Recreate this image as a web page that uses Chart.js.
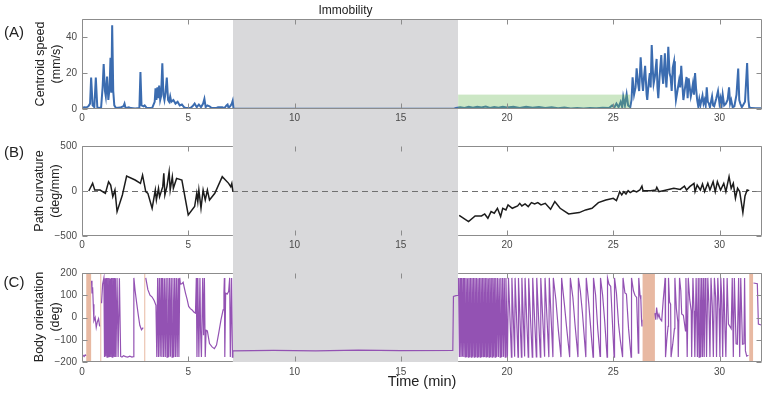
<!DOCTYPE html>
<html>
<head>
<meta charset="utf-8">
<script src="https://cdn.jsdelivr.net/npm/chart.js@4.4.1/dist/chart.umd.min.js"></script>
<style>
  body { margin: 0; background: #fff; font-family: "Liberation Sans", Arial, Helvetica, sans-serif; }
  #page { position: relative; width: 767px; height: 395px; overflow: hidden; }
  #band { position: absolute; background: #d9d9db; }
  canvas { position: absolute; left: 0; }
  .lbl { position: absolute; color: #222; white-space: nowrap; transform: translate(-50%, -50%); }
  .ytitle { position: absolute; font-size: 12.5px; line-height: 16px; text-align: center; color: #222;
            white-space: nowrap; transform: translate(-50%, -50%) rotate(-90deg); }
</style>
</head>
<body>
<div id="page">
  <div id="band"></div>
  <canvas id="panelA" width="767" height="125" style="top:0px"></canvas>
  <canvas id="panelB" width="767" height="130" style="top:125px"></canvas>
  <canvas id="panelC" width="767" height="140" style="top:255px"></canvas>

  <div class="lbl" id="immLabel" style="top:10px;font-size:12px">Immobility</div>
  <div class="lbl" style="left:14px;top:31px;font-size:15px">(A)</div>
  <div class="lbl" style="left:14px;top:151px;font-size:15px">(B)</div>
  <div class="lbl" style="left:14px;top:281px;font-size:15px">(C)</div>
  <div class="ytitle" style="left:48px;top:64px">Centroid speed<br>(mm/s)</div>
  <div class="ytitle" style="left:47px;top:191px">Path curvature<br>(deg/mm)</div>
  <div class="ytitle" style="left:47px;top:317px">Body orientation<br>(deg)</div>
  <div class="lbl" id="timeLabel" style="top:381px;font-size:14.5px">Time (min)</div>
</div>

<script>
const FONT = '"Liberation Sans", Arial, Helvetica, sans-serif';

// tick labels
const timeTicks = [0, 5, 10, 15, 20, 25, 30];
const speedTicks = [0, 20, 40];
const curvTicks = [-500, 0, 500];
const orientTicks = [-200, -100, 0, 100, 200];

// shaded intervals (min)
const immobility = [7.1, 17.7];
const lowSpeed = [17.7, 25.8];
const lowSpeedTop = 8;
const grooming = [[0.2, 0.43], [0.86, 0.9], [2.93, 2.97], [26.38, 26.96], [31.4, 31.58]];

// (A) centroid speed, mm/s
const speedT = [
  0, 0.1, 0.2, 0.3, 0.38, 0.43, 0.5, 0.58, 0.65, 0.72,
  0.8, 0.9, 0.97, 1.02, 1.08, 1.12, 1.18, 1.24, 1.3, 1.34,
  1.38, 1.42, 1.47, 1.52, 1.6, 1.8, 1.95, 2.0, 2.05, 2.2,
  2.3, 2.5, 2.7, 2.75, 2.8, 2.9, 2.95, 3.05, 3.3, 3.42,
  3.46, 3.5, 3.55, 3.6, 3.63, 3.68, 3.72, 3.78, 3.83, 3.88,
  3.93, 3.99, 4.05, 4.1, 4.15, 4.2, 4.3, 4.4, 4.5, 4.6,
  4.7, 4.8, 4.9, 5.1, 5.2, 5.3, 5.4, 5.5, 5.6, 5.7,
  5.76, 5.82, 5.9, 6.0, 6.1, 6.3, 6.4, 6.6, 6.7, 6.8,
  6.85, 6.9, 7.0, 7.05, 7.09, 7.13, 8, 10, 12, 14,
  16, 17.5, 17.6, 17.8, 18, 18.2, 18.4, 18.6, 18.8, 19,
  19.2, 19.4, 19.6, 19.8, 20, 20.3, 20.6, 20.9, 21.2, 21.5,
  21.8, 22.1, 22.4, 22.7, 23, 23.3, 23.6, 23.9, 24.2, 24.5,
  24.8, 24.95, 25.05, 25.15, 25.25, 25.35, 25.42, 25.47, 25.55, 25.63,
  25.7, 25.8, 25.86, 25.91, 25.98, 26.05, 26.1, 26.17, 26.22, 26.29,
  26.36, 26.4, 26.45, 26.5, 26.57, 26.6, 26.67, 26.72, 26.76, 26.81,
  26.86, 26.9, 26.96, 27.04, 27.08, 27.12, 27.18, 27.26, 27.3, 27.35,
  27.43, 27.47, 27.5, 27.55, 27.59, 27.65, 27.7, 27.75, 27.8, 27.86,
  27.9, 27.95, 28.02, 28.1, 28.15, 28.2, 28.25, 28.3, 28.38, 28.45,
  28.5, 28.55, 28.6, 28.65, 28.7, 28.75, 28.8, 28.85, 28.9, 28.95,
  29.0, 29.05, 29.1, 29.2, 29.25, 29.3, 29.35, 29.4, 29.45, 29.5,
  29.55, 29.6, 29.65, 29.7, 29.75, 29.85, 29.93, 30.0, 30.05, 30.1,
  30.15, 30.22, 30.3, 30.38, 30.45, 30.5, 30.55, 30.62, 30.7, 30.8,
  30.88, 30.93, 30.98, 31.05, 31.1, 31.2, 31.3, 31.36, 31.4, 31.5,
  31.7, 32
];
const speedV = [
  0.5, 1, 0.8, 1.5, 3, 17.5, 2, 1, 17.5, 1,
  0.5, 1, 12, 25, 10, 7, 18, 5, 12, 28.5,
  9, 46.5, 10, 2, 0.5, 0.8, 1.5, 3, 0.5, 1,
  0.5, 0.3, 0.5, 20.5, 2, 1.5, 2, 0.5, 0.5, 4,
  11.5, 5, 12, 6, 13, 5, 7, 25.4, 8, 5,
  9, 17.4, 5, 4, 7, 4, 5, 3, 4, 2,
  2.5, 1, 0.5, 0.5, 1.5, 3, 1, 2.5, 1, 3,
  5.6, 1, 2, 1.5, 0.5, 0.5, 1, 1, 0.5, 2,
  2.5, 0.5, 2, 3, 4.5, 0.3, 0.2, 0.2, 0.2, 0.2,
  0.2, 0.2, 0.6, 1, 0.6, 1.2, 0.7, 1.3, 0.8, 1.4,
  0.6, 1.1, 0.7, 1.3, 0.8, 1.2, 0.6, 1.3, 0.7, 1.1,
  0.5, 1, 0.4, 0.8, 0.3, 0.6, 0.3, 0.5, 0.4, 0.7,
  0.5, 2, 0.8, 3, 1, 4, 1, 6.8, 2, 8.2,
  2, 1, 5, 17.6, 8, 12, 22.6, 14, 10, 28.7,
  15, 10, 18, 24, 8, 5, 15, 20, 12, 35.5,
  22, 14, 18, 27.8, 12, 6, 18, 30, 20, 14,
  31, 18, 12, 22, 34.5, 20, 17.5, 10, 23, 26.5,
  14, 5, 10, 16, 12, 24, 14, 5, 12, 17.8,
  6, 17, 12, 7, 10, 14, 8, 20, 11, 5,
  1.5, 5.5, 2, 7.5, 3, 5, 2, 12, 4, 3,
  1, 4, 7, 2, 1.5, 6, 10, 3, 6, 2,
  8, 2, 3, 5, 12, 3, 5, 1, 1.5, 8,
  22.5, 5, 3, 1, 2, 4, 25.5, 5, 1, 0.5,
  0.4, 0.4
];

// (B) path curvature, deg/mm (no value during immobility)
const curvT = [
  0.32, 0.5, 0.6, 0.85, 1.1, 1.25, 1.35, 1.45, 1.55, 1.65,
  1.9, 2.1, 2.5, 2.75, 2.85, 3.0, 3.1, 3.3, 3.45, 3.5,
  3.6, 3.65, 3.8, 3.85, 3.9, 4.0, 4.1, 4.15, 4.25, 4.3,
  4.45, 4.7, 5.0, 5.3, 5.4, 5.45, 5.5, 5.6, 5.7, 5.8,
  5.9, 6.0, 6.25, 6.6, 6.9, 7.0, 7.05, 7.1, 12, 17.75,
  18.19, 18.5, 18.8, 18.95, 19.1, 19.25, 19.4, 19.55, 19.7, 19.8,
  19.95, 20.05, 20.25, 20.5, 20.6, 20.7, 20.85, 21.0, 21.15, 21.3,
  21.45, 21.6, 21.8, 22.05, 22.25, 22.5, 22.9, 23.4, 23.7, 24.0,
  24.3, 24.65, 25.0, 25.15, 25.25, 25.3, 25.4, 25.5, 25.6, 25.7,
  25.8, 25.95, 26.1, 26.25, 26.35, 26.4, 26.75, 27.0, 27.05, 27.15,
  27.5, 27.85, 28.15, 28.35, 28.45, 28.6, 28.8, 28.85, 28.95, 29.1,
  29.2, 29.3, 29.45, 29.55, 29.7, 29.8, 29.9, 30.05, 30.2, 30.3,
  30.45, 30.55, 30.65, 30.75, 30.85, 30.95, 31.1, 31.2, 31.3, 31.4
];
const curvV = [
  0, 85, 11, 11, -26, 103, 66, -63, 11, -229,
  -44, 166, 122, 85, 177, -7, -26, -192, 11, -100,
  30, -63, 48, 196, -44, 55, 214, 11, 159, 30,
  140, 122, -266, -173, -26, -118, 11, -192, 11, -100,
  11, -100, -26, 159, 85, 48, 85, -7, null, -270,
  -340, -277, -277, -255, -303, -229, -247, -192, -284, -192,
  -210, -155, -192, -166, -137, -166, -144, -173, -129, -144,
  -129, -155, -137, -203, -118, -192, -255, -240, -210, -192,
  -129, -100, -81, -107, -44, -7, -44, -7, -33, 4,
  -18, 4, -11, 11, 55, 4, 4, 11, 41, -7,
  11, 30, 18, 55, 11, 48, 85, -7, 66, 11,
  77, -7, 85, 11, 103, -7, 103, 11, 85, -7,
  159, 30, 85, -81, 30, -7, -240, -55, 11, 4
];

// (C) body orientation, deg (gaps during grooming)
const orientT = [
  0, 0.05, 0.1, 0.15, 0.19, 0.3, 0.45, 0.47, 0.5, 0.53,
  0.56, 0.62, 0.67, 0.72, 0.78, 0.83, 0.87, 0.92, 0.97, 1.03,
  1.06, 1.09, 1.12, 1.15, 1.18, 1.21, 1.24, 1.27, 1.3, 1.33,
  1.36, 1.39, 1.42, 1.45, 1.48, 1.51, 1.54, 1.57, 1.6, 1.65,
  1.7, 1.76, 1.82, 1.88, 1.95, 2.05, 2.15, 2.25, 2.35, 2.42,
  2.44, 2.5, 2.58, 2.65, 2.72, 2.8, 2.88, 2.95, 3.0, 3.1,
  3.2, 3.3, 3.4, 3.48, 3.52, 3.56, 3.6, 3.64, 3.68, 3.72,
  3.76, 3.8, 3.84, 3.88, 3.92, 3.96, 4.0, 4.04, 4.08, 4.12,
  4.16, 4.2, 4.24, 4.28, 4.32, 4.36, 4.4, 4.44, 4.48, 4.52,
  4.56, 4.6, 4.63, 4.7, 4.76, 4.8, 4.87, 4.95, 5.02, 5.1,
  5.18, 5.26, 5.34, 5.38, 5.41, 5.45, 5.5, 5.55, 5.58, 5.62,
  5.68, 5.72, 5.76, 5.8, 5.84, 5.9, 6.0, 6.12, 6.23, 6.33,
  6.43, 6.54, 6.64, 6.68, 6.7, 6.72, 6.76, 6.83, 6.9, 6.95,
  6.98, 7.04, 7.08, 7.1, 9, 11, 13, 15, 17.45, 17.48,
  17.6, 17.7, 17.72, 17.76, 17.79, 17.83, 17.86, 17.9, 17.93, 17.97,
  18.0, 18.04, 18.07, 18.11, 18.14, 18.18, 18.21, 18.25, 18.28, 18.32,
  18.35, 18.39, 18.42, 18.46, 18.49, 18.53, 18.56, 18.6, 18.63, 18.67,
  18.7, 18.74, 18.77, 18.81, 18.84, 18.88, 18.91, 18.95, 18.98, 19.02,
  19.05, 19.09, 19.12, 19.16, 19.19, 19.23, 19.26, 19.3, 19.33, 19.37,
  19.4, 19.44, 19.47, 19.52, 19.55, 19.6, 19.63, 19.68, 19.71, 19.76,
  19.79, 19.84, 19.87, 19.92, 19.95, 20.02, 20.07, 20.21, 20.23, 20.36,
  20.38, 20.52, 20.54, 20.68, 20.7, 20.83, 20.85, 21.0, 21.02, 21.19,
  21.21, 21.38, 21.4, 21.57, 21.59, 21.77, 21.79, 21.97, 21.99, 22.16,
  22.18, 22.3, 22.42, 22.54, 22.57, 22.7, 22.8, 22.95, 22.98, 23.1,
  23.2, 23.34, 23.36, 23.45, 23.55, 23.71, 23.73, 23.85, 23.95, 24.05,
  24.07, 24.17, 24.27, 24.38, 24.4, 24.5, 24.6, 24.71, 24.73, 24.8,
  24.88, 24.95, 25.04, 25.06, 25.15, 25.25, 25.33, 25.44, 25.46, 25.55,
  25.62, 25.72, 25.84, 25.86, 25.95, 26.02, 26.1, 26.18, 26.2, 26.26,
  26.3, 26.33, 26.35, 26.6, 26.96, 27.0, 27.04, 27.1, 27.15, 27.2,
  27.28, 27.35, 27.42, 27.44, 27.46, 27.52, 27.58, 27.6, 27.65, 27.7,
  27.72, 27.8, 27.88, 27.9, 27.97, 28.04, 28.06, 28.12, 28.18, 28.22,
  28.3, 28.4, 28.42, 28.48, 28.53, 28.6, 28.67, 28.69, 28.75, 28.8,
  28.84, 28.9, 28.96, 29.0, 29.04, 29.08, 29.12, 29.16, 29.2, 29.24,
  29.28, 29.32, 29.36, 29.39, 29.45, 29.5, 29.55, 29.6, 29.66, 29.71,
  29.76, 29.82, 29.86, 29.92, 29.98, 30.02, 30.06, 30.1, 30.15, 30.2,
  30.26, 30.3, 30.36, 30.42, 30.49, 30.55, 30.6, 30.65, 30.7, 30.78,
  30.84, 30.9, 30.95, 31.0, 31.08, 31.15, 31.18, 31.22, 31.28, 31.36,
  31.45, 31.6, 31.78, 31.83, 32
];
const orientV = [
  -165, -170, -175, -168, -172, null, 165, 108, 136, 60,
  -15, 0, -45, -20, -5, -40, null, 64, 150, 178,
  -178, 176, -175, 178, -178, 177, -176, 178, -178, 175,
  -177, 178, -178, 177, -176, 178, -178, 176, -178, 178,
  -178, 176, -175, -178, -172, -176, -178, -174, -178, -176,
  178, 120, 60, 10, -35, -55, -45, null, 178, 125,
  100, 92, 75, 55, -178, 178, -178, 177, -176, 178,
  -178, 178, -177, 176, -178, 178, -178, 177, -178, 178,
  -176, 178, -178, 177, -178, 178, -177, 178, -178, 176,
  -178, 178, 150, 152, 158, 140, 110, 80, 50, 40,
  34, 25, 20, 178, -178, 178, -178, 178, -60, -178,
  178, -80, 178, -178, -57, -60, -117, -132, -140, -124,
  -72, -11, 34, 111, 178, -178, 110, 105, 117, 178,
  -178, 178, -178, -150, -148, -150, -147, -149, -148, 95,
  98, 100, 178, -178, 177, -178, 178, -176, 178, -178,
  178, -177, 178, -178, 176, -178, 178, -178, 177, -178,
  178, -176, 178, -178, 178, -177, 178, -178, 176, -178,
  178, -178, 177, -178, 178, -176, 178, -178, 178, -177,
  178, -178, 176, -178, 178, -178, 177, -178, 178, -176,
  178, -178, 178, -177, 178, -178, 176, -178, 178, -178,
  178, -177, 178, -178, 178, -178, 178, -178, 178, -176,
  178, -178, 177, -178, 178, -175, 178, -178, 176, -178,
  178, -177, 178, -178, 177, -176, 178, -178, 178, -178,
  178, 80, -60, -178, 178, 60, -40, -178, 178, 90,
  -30, -178, 178, 120, 20, -178, 178, 60, -60, -178,
  178, 100, -50, -175, 178, 100, -20, -178, 178, 150,
  140, 0, -178, 178, 110, -30, -100, -178, 178, 110,
  105, -50, -178, 178, 120, 100, 90, -160, 178, 100,
  80, -10, -40, null, 20, -10, 45, 0, 15, -5,
  -15, 76, 150, 178, -178, -100, -40, 178, 70, 60,
  -178, -120, -50, 178, 40, -20, -178, 178, 120, 16,
  10, -60, 178, -178, 178, 80, 30, -178, 178, 30,
  -178, 178, -178, 178, -178, 178, -178, 178, -178, 178,
  -178, 178, 40, -178, 178, 60, -178, 178, 50, -178,
  178, 90, -178, 178, 40, -178, 178, 100, -178, 178,
  -60, -178, 178, -30, -40, -50, 178, -178, 178, -118,
  -120, 178, -178, 178, -120, -118, 178, -150, -174, -170,
  null, 155, 152, -30, -35
];

const toPoints = (ts, vs) => ts.map((t, i) => ({ x: t, y: vs[i] }));
const fmtTick = v => (v < 0 ? '\u2212' + Math.abs(v) : String(v));

// axes box with inward ticks on all four sides, matlab style
function framePlugin(skip) {
  return {
    id: 'frame',
    afterDatasetsDraw(chart) {
      const { ctx, chartArea: a, scales: { x, y } } = chart;
      const L = Math.round(a.left) + 0.5, R = Math.round(a.right) - 0.5;
      const T = Math.round(a.top) + 0.5, B = Math.round(a.bottom) - 0.5;
      ctx.save();
      ctx.strokeStyle = '#8c8c8c';
      ctx.lineWidth = 1;
      ctx.beginPath();
      ctx.moveTo(L, T); ctx.lineTo(L, B);
      ctx.moveTo(R, T); ctx.lineTo(R, B);
      [T, B].forEach(yy => {
        if (skip) {
          ctx.moveTo(L, yy); ctx.lineTo(x.getPixelForValue(skip[0]), yy);
          ctx.moveTo(x.getPixelForValue(skip[1]), yy); ctx.lineTo(R, yy);
        } else {
          ctx.moveTo(L, yy); ctx.lineTo(R, yy);
        }
      });
      x.ticks.forEach(t => {
        const px = Math.round(x.getPixelForValue(t.value)) + 0.5;
        ctx.moveTo(px, T); ctx.lineTo(px, T + 5);
        ctx.moveTo(px, B); ctx.lineTo(px, B - 5);
      });
      y.ticks.forEach(t => {
        const py = Math.round(y.getPixelForValue(t.value)) + 0.5;
        ctx.moveTo(L, py); ctx.lineTo(L + 5, py);
        ctx.moveTo(R, py); ctx.lineTo(R - 5, py);
      });
      ctx.stroke();
      ctx.restore();
    }
  };
}

const lowSpeedBox = {
  id: 'lowSpeedBox',
  afterDatasetsDraw(chart) {
    const { ctx, scales: { x, y } } = chart;
    const x0 = x.getPixelForValue(lowSpeed[0]), x1 = x.getPixelForValue(lowSpeed[1]);
    const y0 = y.getPixelForValue(0), y1 = y.getPixelForValue(lowSpeedTop);
    ctx.save();
    ctx.fillStyle = 'rgba(110, 185, 90, 0.35)';
    ctx.fillRect(x0, y1, x1 - x0, y0 - y1);
    ctx.restore();
  }
};

const zeroLine = {
  id: 'zeroLine',
  beforeDatasetsDraw(chart) {
    const { ctx, chartArea: a, scales: { y } } = chart;
    const py = Math.round(y.getPixelForValue(0)) + 0.5;
    ctx.save();
    ctx.strokeStyle = '#707070';
    ctx.lineWidth = 1;
    ctx.setLineDash([6, 4]);
    ctx.beginPath();
    ctx.moveTo(a.left, py); ctx.lineTo(a.right, py);
    ctx.stroke();
    ctx.restore();
  }
};

const groomBars = {
  id: 'groomBars',
  beforeDatasetsDraw(chart) {
    const { ctx, chartArea: a, scales: { x } } = chart;
    ctx.save();
    ctx.fillStyle = '#e8b9a2';
    grooming.forEach(([s, e]) => {
      const x0 = x.getPixelForValue(s), x1 = x.getPixelForValue(e);
      ctx.fillRect(x0, a.top, Math.max(1, x1 - x0), a.bottom - a.top);
    });
    ctx.restore();
  }
};

function makeChart(id, cfg) {
  const tickFont = { size: 10, family: FONT };
  return new Chart(document.getElementById(id), {
    type: 'line',
    data: {
      datasets: [{
        data: cfg.points,
        borderColor: cfg.color,
        borderWidth: cfg.width,
        pointRadius: 0,
        tension: 0,
        spanGaps: false,
        fill: false
      }]
    },
    options: {
      responsive: false,
      animation: false,
      devicePixelRatio: 1,
      layout: { padding: { left: 0, right: 5, top: cfg.padTop, bottom: 0 } },
      plugins: { legend: { display: false }, tooltip: { enabled: false } },
      scales: {
        x: {
          type: 'linear', min: 0, max: 32,
          grid: { display: false, drawTicks: false },
          border: { display: false },
          ticks: { padding: cfg.xPad, color: '#4a4a4a', font: tickFont, maxRotation: 0 },
          afterBuildTicks: s => { s.ticks = timeTicks.map(v => ({ value: v })); },
          afterFit: s => { s.height = cfg.xHeight; }
        },
        y: {
          type: 'linear', min: cfg.yMin, max: cfg.yMax,
          grid: { display: false, drawTicks: false },
          border: { display: false },
          ticks: { padding: 5, color: '#4a4a4a', font: tickFont, callback: fmtTick },
          afterBuildTicks: s => { s.ticks = cfg.yTicks.map(v => ({ value: v })); },
          afterFit: s => { s.width = 82; }
        }
      }
    },
    plugins: cfg.plugins
  });
}

const chartA = makeChart('panelA', {
  points: toPoints(speedT, speedV), color: '#3b6cb0', width: 2,
  yMin: 0, yMax: 50, yTicks: speedTicks, padTop: 19, xHeight: 16, xPad: 3,
  plugins: [lowSpeedBox, framePlugin(null)]
});
const chartB = makeChart('panelB', {
  points: toPoints(curvT, curvV), color: '#1c1c1c', width: 1.5,
  yMin: -500, yMax: 500, yTicks: curvTicks, padTop: 21, xHeight: 19, xPad: 3,
  plugins: [zeroLine, framePlugin(immobility)]
});
const chartC = makeChart('panelC', {
  points: toPoints(orientT, orientV), color: '#9352b3', width: 1.2,
  yMin: -200, yMax: 200, yTicks: orientTicks, padTop: 18, xHeight: 33, xPad: 4,
  plugins: [groomBars, framePlugin(immobility)]
});

// immobility band spans all three panels, placed with panel A's time scale
const xs = chartA.scales.x;
const bandL = xs.getPixelForValue(immobility[0]);
const bandR = xs.getPixelForValue(immobility[1]);
const band = document.getElementById('band');
band.style.left = bandL + 'px';
band.style.width = (bandR - bandL) + 'px';
band.style.top = chartA.chartArea.top + 'px';
band.style.height = (255 + chartC.chartArea.bottom - chartA.chartArea.top) + 'px';
document.getElementById('immLabel').style.left = ((bandL + bandR) / 2) + 'px';
document.getElementById('timeLabel').style.left = ((xs.left + xs.right) / 2) + 'px';
</script>
</body>
</html>
